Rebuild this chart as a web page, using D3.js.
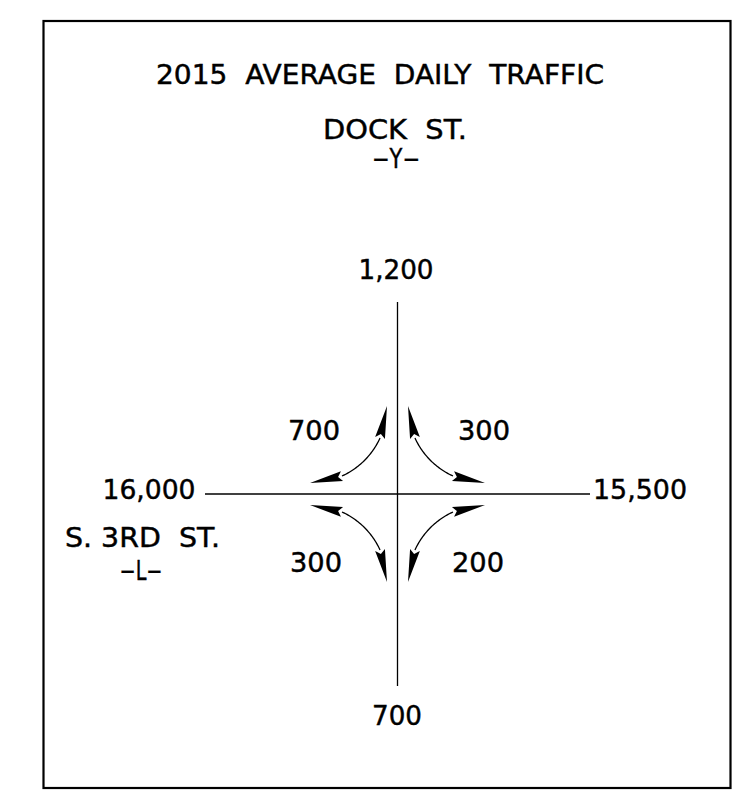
<!DOCTYPE html>
<html>
<head>
<meta charset="utf-8">
<script src="https://cdn.jsdelivr.net/npm/d3@7"></script>
<style>
  html, body { margin: 0; padding: 0; background: #fff; }
  svg text { font-family: "DejaVu Sans", sans-serif; font-size: 27px; fill: #000; stroke: #000; stroke-width: 0.45px; white-space: pre; }
</style>
</head>
<body>
<svg id="chart" width="751" height="803"></svg>
<script>
// ---- data ----
const titleLines = ["2015  AVERAGE  DAILY  TRAFFIC"];
const yStreet = ["DOCK  ST.", "\u2212Y\u2212"];
const lStreet = ["S. 3RD  ST.", "\u2212L\u2212"];
const approaches = ["N", "S", "W", "E"];
const approachVolumes = ["1,200", "700", "16,000", "15,500"];
const turnQuadrants = ["NW", "NE", "SW", "SE"];
const turnVolumes = ["700", "300", "300", "200"];

// ---- layout ----
const svg = d3.select("#chart");
const X0 = 397.5, Y0 = 494;

svg.append("rect").attr("x", 43.5).attr("y", 21).attr("width", 687).attr("height", 767)
  .attr("fill", "none").attr("stroke", "#000").attr("stroke-width", 2.2);

function label(x, y, txt, len, anchor) {
  const t = svg.append("text").attr("x", x).attr("y", y)
    .attr("text-anchor", anchor || "middle").text(txt);
  if (len) t.attr("textLength", len).attr("lengthAdjust", "spacingAndGlyphs");
  return t;
}

label(380, 84, titleLines[0], 448);
label(395, 139, yStreet[0], 144);
label(396, 168, yStreet[1], 48);
label(142.5, 547, lStreet[0], 155);
label(141, 580, lStreet[1], 43);

// road lines
svg.append("line").attr("x1", X0).attr("x2", X0).attr("y1", 302).attr("y2", 686)
  .attr("stroke", "#000").attr("stroke-width", 1.3);
svg.append("line").attr("x1", 205).attr("x2", 590).attr("y1", Y0).attr("y2", Y0)
  .attr("stroke", "#000").attr("stroke-width", 1.3);

// approach labels
const apPos = {
  N: {x: 396, y: 279, a: "middle", w: 75},
  S: {x: 397, y: 725, a: "middle", w: 50},
  W: {x: 149, y: 499, a: "middle", w: 93},
  E: {x: 640, y: 499, a: "middle", w: 94}
};
approaches.forEach((k, i) => {
  const p = apPos[k];
  label(p.x, p.y, approachVolumes[i], p.w, p.a);
});

// turn labels and arrows
const quadSign = {NW: [-1, -1], NE: [1, -1], SW: [-1, 1], SE: [1, 1]};
const turnLabelPos = {NW: [314, 440], NE: [484, 440], SW: [316, 572], SE: [478, 572]};
const R = 77, headLen = 33, headW = 5, notch = 4;
const line = d3.line();

turnQuadrants.forEach((q, i) => {
  const [sx, sy] = quadSign[q];
  const cx = X0 + sx * 87.5, cy = Y0 + sy * 88;
  const thH = Math.atan2(-sy, 0);      // tip near horizontal road
  const thV = Math.atan2(0, -sx);      // tip near vertical road
  let d = thV - thH;
  while (d > Math.PI) d -= 2 * Math.PI;
  while (d < -Math.PI) d += 2 * Math.PI;
  const dir = Math.sign(d);
  const delta = headLen / R;
  const pt = th => [cx + R * Math.cos(th), cy + R * Math.sin(th)];
  const thVu = thH + d;
  const a0 = thH + dir * delta, a1 = thVu - dir * delta;
  const pts = d3.range(0, 1.0001, 1 / 40).map(t => pt(a0 + (a1 - a0) * t));
  svg.append("path").attr("d", line(pts)).attr("fill", "none")
    .attr("stroke", "#000").attr("stroke-width", 1.3);

  [[pt(thH), pt(a0)], [pt(thVu), pt(a1)]].forEach(([tip, base]) => {
    const ux = tip[0] - base[0], uy = tip[1] - base[1];
    const L = Math.hypot(ux, uy);
    const u = [ux / L, uy / L], n = [-u[1], u[0]];
    const head = [
      tip,
      [base[0] + n[0] * headW, base[1] + n[1] * headW],
      [base[0] + u[0] * notch, base[1] + u[1] * notch],
      [base[0] - n[0] * headW, base[1] - n[1] * headW]
    ];
    svg.append("path").attr("d", line(head) + "Z").attr("fill", "#000");
  });

  const [lx, ly] = turnLabelPos[q];
  label(lx, ly, turnVolumes[i], 52);
});
</script>
</body>
</html>
